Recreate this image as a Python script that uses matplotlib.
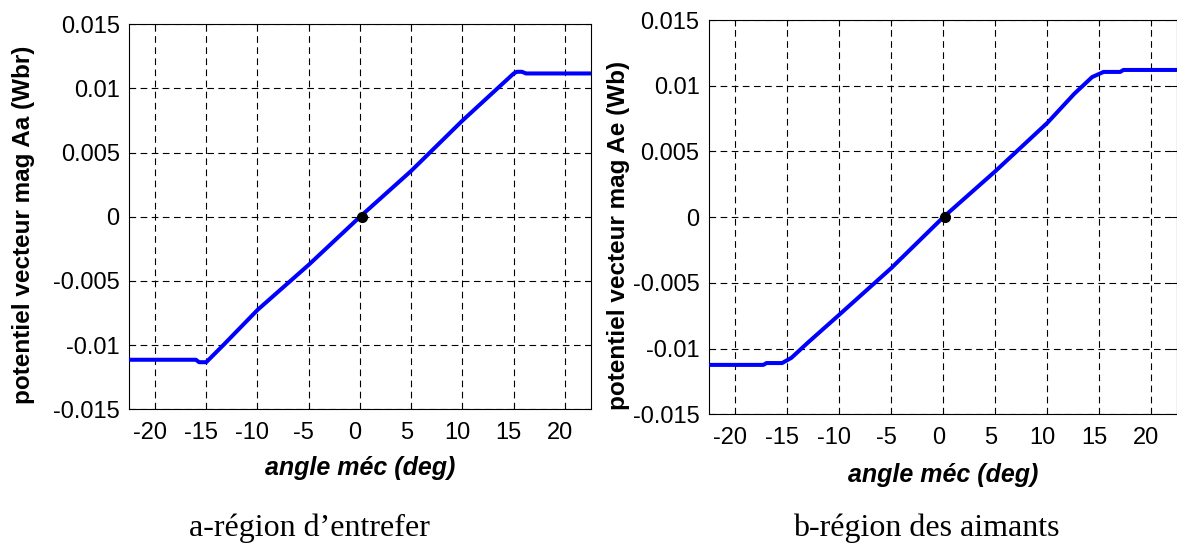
import matplotlib
matplotlib.use('Agg')
import matplotlib.pyplot as plt
import matplotlib.transforms as mtransforms

# valeurs
angle_a = [-22.5, -16.0, -15.7, -15.0, -13.3, -10.0, -5.0, 0.0, 5.0, 10.0, 15.0, 15.3, 15.8, 16.2, 22.5]
pot_a = [-0.01114, -0.01114, -0.01133, -0.01133, -0.00997, -0.00726, -0.00374, 0.0,
         0.00358, 0.0075, 0.01117, 0.0113, 0.0113, 0.01117, 0.01117]

angle_b = [-22.5, -17.3, -17.0, -15.5, -14.6, -13.0, -10.0, -5.0, 0.0, 5.0, 10.0,
           12.6, 14.3, 15.4, 17.0, 17.3, 22.5]
pot_b = [-0.01124, -0.01124, -0.0111, -0.0111, -0.0107, -0.00953, -0.00742, -0.00387, 0.0,
         0.0035, 0.00718, 0.0094, 0.01066, 0.01105, 0.01105, 0.0112, 0.0112]

point_x = [0.2]
point_y = [0.0]

xticks = [-20, -15, -10, -5, 0, 5, 10, 15, 20]
yticks = [-0.015, -0.01, -0.005, 0, 0.005, 0.01, 0.015]
ytick_labels = ['-0.015', '-0.01', '-0.005', '0', '0.005', '0.01', '0.015']

ylabels = ['potentiel vecteur mag Aa (Wbr)', 'potentiel vecteur mag Ae (Wb)']
captions = ['a-région d\u2019entrefer', 'b-région des aimants']

plt.rcParams['font.family'] = ['Liberation Sans', 'DejaVu Sans']

fig = plt.figure(figsize=(11.77, 5.45), dpi=100)
ax1 = fig.add_axes([0.1099, 0.249, 0.3919, 0.7064])
ax2 = fig.add_axes([0.6026, 0.2398, 0.3978, 0.7235])

data = [(angle_a, pot_a), (angle_b, pot_b)]
ylab_pos = [(-0.204, 0.48), (-0.169, 0.453)]
xlab_y = [-0.121, -0.1235]
cap_x = [309 / 1177, 926 / 1177]

for i, ax in enumerate([ax1, ax2]):
    x, y = data[i]
    ax.plot(x, y, color='#0000ff', lw=2.9, solid_joinstyle='round', zorder=3)
    ax.plot(point_x, point_y, 'o', color='black', ms=7, zorder=4)
    ax.set_xlim(-22.5, 22.5)
    ax.set_ylim(-0.015, 0.015)
    ax.set_xticks(xticks)
    ax.set_xticklabels([str(t) for t in xticks])
    ax.set_yticks(yticks)
    ax.set_yticklabels(ytick_labels)
    ax.grid(True, color='black', lw=0.8, linestyle=(0, (6, 4)))
    ax.tick_params(direction='in', length=4.3, width=0.75, top=True, right=True,
                   labelsize=17)
    ax.tick_params(axis='x', pad=9)
    ax.tick_params(axis='y', pad=7)
    for s in ax.spines.values():
        s.set_linewidth(0.8)
    # labels x un peu decales a gauche comme dans l'original
    off = mtransforms.ScaledTranslation(-5 / 100, 0, fig.dpi_scale_trans)
    for lab in ax.get_xticklabels():
        lab.set_transform(lab.get_transform() + off)
    ax.set_xlabel('angle méc (deg)', fontsize=18, fontweight='bold', style='italic')
    ax.xaxis.set_label_coords(0.5, xlab_y[i])
    ax.set_ylabel(ylabels[i], fontsize=17.5, fontweight='bold')
    ax.yaxis.set_label_coords(*ylab_pos[i])
    fig.text(cap_x[i], 1 - 528 / 545, captions[i], ha='center', va='center',
             fontsize=23, family=['Liberation Serif', 'DejaVu Serif'])

fig.savefig('out.png', dpi=100)
